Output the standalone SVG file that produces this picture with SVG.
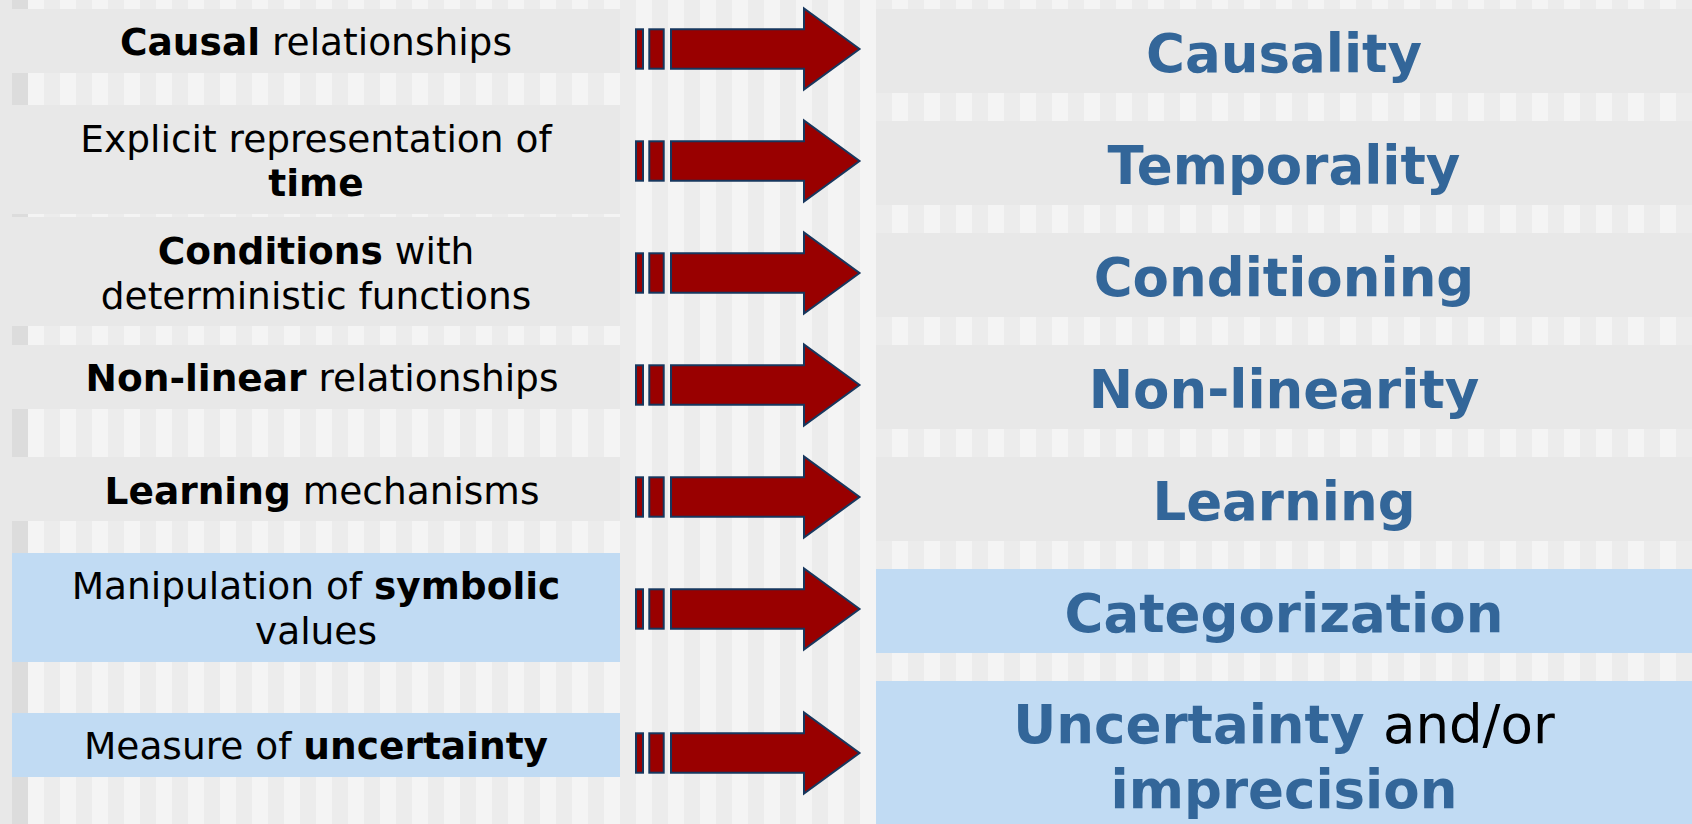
<svg xmlns="http://www.w3.org/2000/svg" width="1692" height="824" viewBox="0 0 1692 824">
  <style>
    text { font-family: "DejaVu Sans", Verdana, sans-serif; }
    .lt { font-size: 37.5px; fill: #000000; text-anchor: middle; }
    .rt { font-size: 53px; font-weight: bold; fill: #336699; text-anchor: middle; }
    .b { font-weight: bold; }
    .k { fill: #000000; font-weight: normal; }
    .gray { fill: #e8e8e8; }
    .blue { fill: #c1dbf3; }
    .arr { fill: #990000; stroke: #17375e; stroke-width: 2; stroke-linejoin: miter; }
  </style>
  <defs>
    <pattern id="stripes" x="12" y="0" width="32" height="824" patternUnits="userSpaceOnUse">
      <rect x="0" y="0" width="16" height="824" fill="#ececec"/>
      <rect x="16" y="0" width="16" height="824" fill="#f4f4f4"/>
    </pattern>
    <g id="arrow">
      <rect class="arr" x="636" y="-19.7" width="7" height="39.4"/>
      <rect class="arr" x="649.3" y="-19.7" width="14.4" height="39.4"/>
      <path class="arr" d="M671,-19.7 H804 V-40.5 L859.5,0 L804,40.5 V19.7 H671 Z"/>
    </g>
  </defs>

  <g id="background">
    <rect x="0" y="0" width="1692" height="824" fill="#e8e8e8"/>
    <rect x="12" y="0" width="1680" height="824" fill="url(#stripes)"/>
    <rect x="12" y="0" width="16" height="824" fill="#dcdcdc"/>
  </g>

  <g id="left-causal">
    <rect class="gray" x="12" y="9" width="608" height="64"/>
    <text class="lt" x="316" y="55"><tspan class="b">Causal</tspan> relationships</text>
  </g>
  <g id="left-time">
    <rect class="gray" x="12" y="105" width="608" height="109"/>
    <text class="lt" x="316" y="152">Explicit representation of</text>
    <text class="lt" x="316" y="196"><tspan class="b">time</tspan></text>
  </g>
  <g id="left-conditions">
    <rect class="gray" x="12" y="217" width="608" height="109"/>
    <text class="lt" x="316" y="264"><tspan class="b">Conditions</tspan> with</text>
    <text class="lt" x="316" y="309">deterministic functions</text>
  </g>
  <g id="left-nonlinear">
    <rect class="gray" x="12" y="345" width="608" height="64"/>
    <text class="lt" x="322" y="391"><tspan class="b">Non-linear</tspan> relationships</text>
  </g>
  <g id="left-learning">
    <rect class="gray" x="12" y="457" width="608" height="64"/>
    <text class="lt" x="322" y="504"><tspan class="b">Learning</tspan> mechanisms</text>
  </g>
  <g id="left-symbolic">
    <rect class="blue" x="12" y="553" width="608" height="109"/>
    <text class="lt" x="316" y="599">Manipulation of <tspan class="b">symbolic</tspan></text>
    <text class="lt" x="316" y="644">values</text>
  </g>
  <g id="left-uncertainty">
    <rect class="blue" x="12" y="713" width="608" height="64"/>
    <text class="lt" x="316" y="759">Measure of <tspan class="b">uncertainty</tspan></text>
  </g>

  <g id="right-causality">
    <rect class="gray" x="876" y="9" width="816" height="84"/>
    <text class="rt" x="1284" y="72">Causality</text>
  </g>
  <g id="right-temporality">
    <rect class="gray" x="876" y="121" width="816" height="84"/>
    <text class="rt" x="1284" y="184">Temporality</text>
  </g>
  <g id="right-conditioning">
    <rect class="gray" x="876" y="233" width="816" height="84"/>
    <text class="rt" x="1284" y="296">Conditioning</text>
  </g>
  <g id="right-nonlinearity">
    <rect class="gray" x="876" y="345" width="816" height="84"/>
    <text class="rt" x="1284" y="408">Non-linearity</text>
  </g>
  <g id="right-learning">
    <rect class="gray" x="876" y="457" width="816" height="84"/>
    <text class="rt" x="1284" y="520">Learning</text>
  </g>
  <g id="right-categorization">
    <rect class="blue" x="876" y="569" width="816" height="84"/>
    <text class="rt" x="1284" y="632">Categorization</text>
  </g>
  <g id="right-uncertainty">
    <rect class="blue" x="876" y="681" width="816" height="143"/>
    <text class="rt" x="1284" y="743">Uncertainty <tspan class="k">and/or</tspan></text>
    <text class="rt" x="1284" y="808">imprecision</text>
  </g>

  <g id="connectors">
    <use href="#arrow" transform="translate(0,49)"/>
    <use href="#arrow" transform="translate(0,161)"/>
    <use href="#arrow" transform="translate(0,273)"/>
    <use href="#arrow" transform="translate(0,385)"/>
    <use href="#arrow" transform="translate(0,497)"/>
    <use href="#arrow" transform="translate(0,609)"/>
    <use href="#arrow" transform="translate(0,753)"/>
  </g>
</svg>
